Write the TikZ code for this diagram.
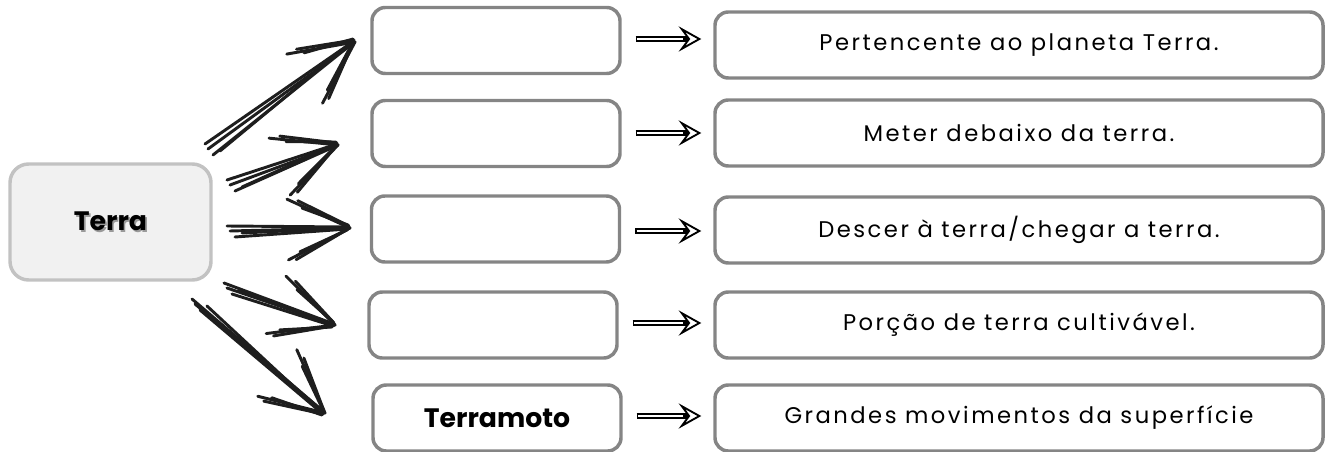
\documentclass[tikz,border=0pt]{standalone}
\usepackage{fontspec}
\setmainfont{Poppins}
\usetikzlibrary{calc}
\usetikzlibrary{arrows.meta}
\newcommand*{\px   }{0.75pt}
\newcommand*{\wing }{52pt}
\newcommand*{\spread}{26}
\definecolor{boxgray}{HTML}{858585}
\definecolor{rootgray}{HTML}{C2C2C2}
\definecolor{rootfill}{HTML}{F1F1F1}
\definecolor{inkblack}{HTML}{1E1E1E}
\newcommand*{\shadowed}[1]{\makebox[0pt][l]{\hspace{1.2pt}\raisebox{-1.2pt}{\textcolor{black!40}{#1}}}#1}
\newcommand*{\sketcharrow}[2]{%
    \draw [sketch] (#1) -- (#2);
    \draw [sketch] ($(#1)+(5,6)$) -- ($(#2)+(-2,1)$);
    \draw [sketch] ($(#1)+(-3,-5)$) -- ($(#2)+(-1,-1)$);
    \draw [sketch] ($(#1)+(12,2)$) -- ($(#2)+(-3,0)$);
    \draw [sketch] (#2) -- ($(#2)!\wing!\spread:(#1)$);
    \draw [sketch] ($(#2)+(-2,1)$) -- ($(#2)!0.9*\wing!\spread+3:(#1)$);
    \draw [sketch] ($(#2)+(-3,2)$) -- ($(#2)!0.8*\wing!\spread-2:(#1)$);
    \draw [sketch] (#2) -- ($(#2)!\wing!-\spread:(#1)$);
    \draw [sketch] ($(#2)+(-1,-2)$) -- ($(#2)!0.85*\wing!-\spread-3:(#1)$);
    \draw [sketch] ($(#2)+(-2,-3)$) -- ($(#2)!0.75*\wing!-\spread+2:(#1)$);
}
\tikzset{
    wordbox/.style={draw=boxgray, line width=2.6pt, rounded corners=10pt, inner sep=0pt,
        minimum width=248*\px, minimum height=66*\px, font=\bfseries\fontsize{20}{24}\selectfont},
    meaningbox/.style={wordbox, minimum width=608*\px,
        font=\fontsize{17}{20}\selectfont\addfontfeature{LetterSpace=11}},
    rootbox/.style={draw=rootgray, fill=rootfill, line width=2.6pt, rounded corners=14pt,
        minimum width=201*\px, minimum height=116*\px, font=\bfseries\fontsize{20}{24}\selectfont},
    sketch/.style={draw=inkblack, line width=2.2pt, line cap=round},
    thenarrow/.style={draw=black, line width=3.8pt, shorten <=14*\px, shorten >=12*\px,
        -{Stealth[open, fill=white, length=17pt, width=19pt, inset=7pt, line width=1.4pt]},
        postaction={draw=white, line width=1.8pt, arrows=-, shorten <=14*\px+1pt, shorten >=12*\px+14pt}},
}

\begin{document}
\begin{tikzpicture}[x=0.75pt, y=-0.75pt]
    \useasboundingbox (0,0) rectangle (1333,452);
    \node [rootbox] (terra) at (110.5,222) {\shadowed{Terra}};

    \node [wordbox] (m1) at (496,40.5) {};
    \node [wordbox] (m2) at (496,133.5) {};
    \node [wordbox] (m3) at (495.5,229) {};
    \node [wordbox] (m4) at (493,325) {};
    \node [wordbox] (m5) at (497,418) {Terramoto};

    \node [meaningbox] (r1) at (1019,45) {Pertencente ao planeta Terra.};
    \node [meaningbox] (r2) at (1019,133) {Meter debaixo da terra.};
    \node [meaningbox] (r3) at (1019,230) {Descer à terra/chegar a terra.};
    \node [meaningbox] (r4) at (1019,325) {Porção de terra cultivável.};
    \node [meaningbox] (r5) at (1019,418) {Grandes movimentos da superfície};

    \draw [thenarrow] (m1.east |- 0,39) -- (r1.west |- 0,39);
    \draw [thenarrow] (m2.east |- 0,133) -- (r2.west |- 0,133);
    \draw [thenarrow] (m3.east |- 0,231) -- (r3.west |- 0,231);
    \draw [thenarrow] (m4.east |- 0,323) -- (r4.west |- 0,323);
    \draw [thenarrow] (m5.east |- 0,416) -- (r5.west |- 0,416);

    \coordinate (a1) at (208,149);  \coordinate (b1) at (355,42);
    \coordinate (a2) at (230,185);  \coordinate (b2) at (338,145);
    \coordinate (a3) at (230,231);  \coordinate (b3) at (350,228);
    \coordinate (a4) at (227,288);  \coordinate (b4) at (335,325);
    \coordinate (a5) at (195,304);  \coordinate (b5) at (325,413);
    \sketcharrow{a1}{b1}
    \sketcharrow{a2}{b2}
    \sketcharrow{a3}{b3}
    \sketcharrow{a4}{b4}
    \sketcharrow{a5}{b5}
\end{tikzpicture}
\end{document}
